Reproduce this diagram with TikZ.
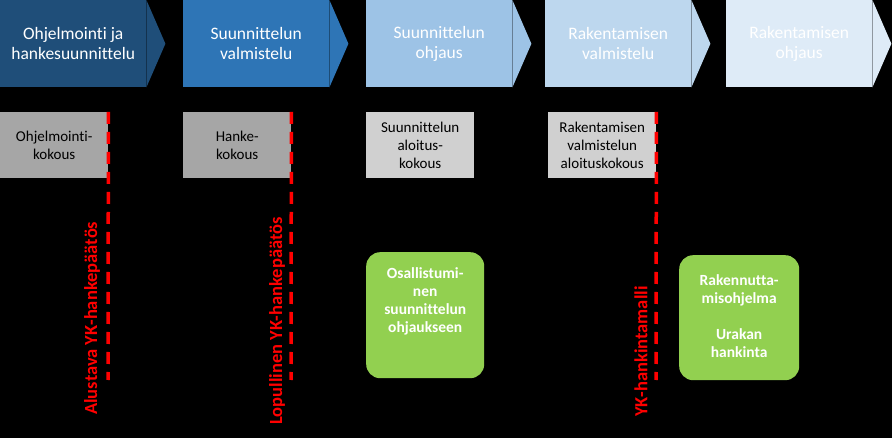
\documentclass[tikz,border=0pt]{standalone}
\usepackage{fontspec}
\setmainfont{Carlito}[Ligatures=NoCommon]
\usetikzlibrary{positioning}

\definecolor{phaseA}{HTML}{1F4E79}
\definecolor{phaseB}{HTML}{2E75B6}
\definecolor{phaseC}{HTML}{9DC3E6}
\definecolor{phaseD}{HTML}{BDD7EE}
\definecolor{phaseE}{HTML}{DEEBF7}
\definecolor{meetDark}{HTML}{A6A6A6}
\definecolor{meetLight}{HTML}{D0D0D0}
\definecolor{taskGreen}{HTML}{92D050}

\begin{document}
\begin{tikzpicture}[
    x=1pt, y=1pt,
    phase/.style={
        rectangle,
        anchor=north west,
        minimum width=146pt,
        minimum height=87pt,
        inner sep=0pt,
        align=center,
        text=white,
        font=\fontsize{17.5}{20}\selectfont
    },
    meeting/.style={
        rectangle,
        anchor=north west,
        minimum width=108pt,
        minimum height=66pt,
        inner sep=0pt,
        align=center,
        text=black,
        font=\fontsize{15}{18}\selectfont
    },
    milestone/.style={
        draw=red,
        line width=3.5pt,
        dash pattern=on 12pt off 8pt
    },
    milestone_label/.style={
        anchor=west,
        rotate=90,
        inner sep=0pt,
        text=red,
        font=\fontsize{18.5}{20}\selectfont\bfseries
    },
    task/.style={
        rectangle,
        anchor=north west,
        fill=taskGreen,
        rounded corners=14pt,
        inner sep=0pt
    },
    task_text/.style={
        anchor=north,
        inner sep=0pt,
        align=center,
        text=white,
        font=\fontsize{15.5}{18}\selectfont\bfseries
    }
]

% Background
\fill[black] (0,0) rectangle (892,-438);

% Phases (body + pointer)
\node[phase, fill=phaseA] (ohjelmointi) at (0,0) {Ohjelmointi ja\\hankesuunnittelu};
\fill[phaseA] (ohjelmointi.north east) -- ([xshift=19pt]ohjelmointi.east) -- (ohjelmointi.south east) -- cycle;

\node[phase, fill=phaseB] (suunvalm) at (183,0) {Suunnittelun\\valmistelu};
\fill[phaseB] (suunvalm.north east) -- ([xshift=19pt]suunvalm.east) -- (suunvalm.south east) -- cycle;

\node[phase, fill=phaseC] (suunohj) at (366,0) {Suunnittelun\\ohjaus};
\fill[phaseC] (suunohj.north east) -- ([xshift=19pt]suunohj.east) -- (suunohj.south east) -- cycle;

\node[phase, fill=phaseD] (rakvalm) at (545,0) {Rakentamisen\\valmistelu};
\fill[phaseD] (rakvalm.north east) -- ([xshift=19pt]rakvalm.east) -- (rakvalm.south east) -- cycle;

\node[phase, fill=phaseE] (rakohj) at (726,0) {Rakentamisen\\ohjaus};
\fill[phaseE] (rakohj.north east) -- ([xshift=19pt]rakohj.east) -- (rakohj.south east) -- cycle;

% Meetings
\node[meeting, fill=meetDark] (ohjkokous) at (0,-112) {Ohjelmointi-\\kokous};
\node[meeting, fill=meetDark] (hankekokous) at (183,-112) {Hanke-\\kokous};
\node[meeting, fill=meetLight] (aloituskokous) at (366,-112) {Suunnittelun\\aloitus-\\kokous};
\node[meeting, fill=meetLight] (rakkokous) at (548,-112) {Rakentamisen\\valmistelun\\aloituskokous};

% Decision lines
\coordinate (alustavaEnd) at (108,-380);
\coordinate (lopullinenEnd) at (291,-380);
\coordinate (hankintaEnd) at (656,-380);
\draw[milestone] (ohjkokous.north east) -- (alustavaEnd);
\draw[milestone] (hankekokous.north east) -- (lopullinenEnd);
\draw[milestone] (rakkokous.north east) -- (hankintaEnd);

\node[milestone_label] (alustava) at (92,-415) {Alustava YK-hankepäätös};
\node[milestone_label] (lopullinen) at (277,-425) {Lopullinen YK-hankepäätös};
\node[milestone_label] (hankintamalli) at (641,-417) {YK-hankintamalli};

% Tasks
\node[task, minimum width=118pt, minimum height=126pt] (osallistuminen) at (366,-252) {};
\node[task_text] (osallistuminenTxt) at ([yshift=-15pt]osallistuminen.north) {Osallistumi-\\nen\\suunnittelun\\ohjaukseen};

\node[task, minimum width=120pt, minimum height=125pt] (rakennuttaminen) at (679,-255) {};
\node[task_text] (rakennuttaminenTxt) at ([yshift=-19pt]rakennuttaminen.north) {Rakennutta-\\misohjelma\\[18pt]Urakan\\hankinta};

\end{tikzpicture}
\end{document}
